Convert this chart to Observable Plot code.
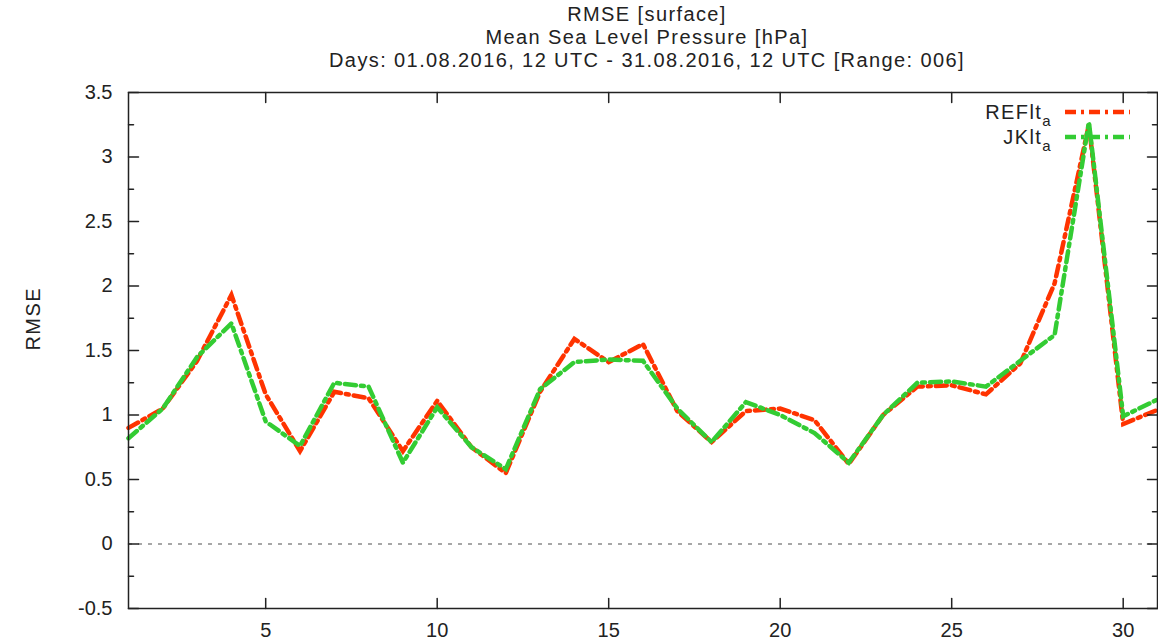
<!DOCTYPE html>
<html>
<head>
<meta charset="utf-8">
<script src="https://cdn.jsdelivr.net/npm/d3@7"></script>
<script src="https://cdn.jsdelivr.net/npm/@observablehq/plot@0.6"></script>
<style>
  html, body { margin: 0; padding: 0; background: #fff; }
  #wrap { position: relative; width: 1158px; height: 644px; }
  #legend { position: absolute; left: 0; top: 0; pointer-events: none; }
</style>
</head>
<body>
<div id="wrap"></div>
<script>
// ---- data ----
const days = [1,2,3,4,5,6,7,8,9,10,11,12,13,14,15,16,17,18,19,20,21,22,23,24,25,26,27,28,29,30,31];
const refValues = [0.90,1.05,1.42,1.93,1.16,0.72,1.18,1.13,0.72,1.11,0.75,0.55,1.18,1.59,1.41,1.55,1.03,0.79,1.03,1.05,0.96,0.62,1.00,1.22,1.23,1.16,1.40,2.02,3.25,0.93,1.04];
const jkValues  = [0.82,1.05,1.45,1.71,0.95,0.76,1.25,1.22,0.63,1.06,0.75,0.58,1.20,1.41,1.43,1.42,1.05,0.79,1.10,1.00,0.86,0.63,1.00,1.25,1.26,1.22,1.42,1.62,3.27,0.99,1.12];
const seriesNames = ["REFlt", "JKlt"];
const seriesColors = ["#ff3300", "#33cc33"];
const yMajorTicks = [-0.5, 0, 0.5, 1, 1.5, 2, 2.5, 3, 3.5];
const yMinorTicks = [-0.25, 0.25, 0.75, 1.25, 1.75, 2.25, 2.75, 3.25];
const xTicks = [5, 10, 15, 20, 25, 30];
const titleLines = [
  "RMSE [surface]",
  "Mean Sea Level Pressure [hPa]",
  "Days: 01.08.2016, 12 UTC - 31.08.2016, 12 UTC [Range: 006]"
];
const yLabel = "RMSE";

// ---- table ----
const rows = [];
[refValues, jkValues].forEach((vals, s) => {
  vals.forEach((v, i) => rows.push({series: seriesNames[s], day: days[i], value: v}));
});

const tickShape = { draw(context, l) { context.moveTo(0, 0); context.lineTo(0, -l); } };
const dashDot = "11,5,3,5";
const fontFamily = "'Liberation Sans', Arial, Helvetica, sans-serif";

const chart = Plot.plot({
  width: 1158,
  height: 644,
  marginLeft: 128,
  marginRight: 1,
  marginTop: 92,
  marginBottom: 36,
  style: { fontFamily, fontSize: "20px", color: "#222", background: "#fff" },
  x: { domain: [1, 31] },
  y: { domain: [-0.5, 3.5] },
  marks: [
    Plot.ruleY([0], { stroke: "#8a8a8a", strokeWidth: 1.4, strokeDasharray: "4,6" }),
    Plot.line(rows.filter(d => d.series === seriesNames[0]), {
      x: "day", y: "value", stroke: seriesColors[0], strokeWidth: 4.5,
      strokeDasharray: dashDot, strokeLinejoin: "miter", strokeMiterlimit: 6
    }),
    Plot.line(rows.filter(d => d.series === seriesNames[1]), {
      x: "day", y: "value", stroke: seriesColors[1], strokeWidth: 4.5,
      strokeDasharray: dashDot, strokeLinejoin: "miter", strokeMiterlimit: 6
    }),
    Plot.frame({ stroke: "#222", strokeWidth: 1.5 }),
    Plot.vector(yMajorTicks, { y: d => d, frameAnchor: "left", rotate: 90, length: 10, anchor: "start", shape: tickShape, stroke: "#222", strokeWidth: 1.5 }),
    Plot.vector(yMajorTicks, { y: d => d, frameAnchor: "right", rotate: -90, length: 10, anchor: "start", shape: tickShape, stroke: "#222", strokeWidth: 1.5 }),
    Plot.vector(yMinorTicks, { y: d => d, frameAnchor: "left", rotate: 90, length: 5, anchor: "start", shape: tickShape, stroke: "#222", strokeWidth: 1.5 }),
    Plot.vector(yMinorTicks, { y: d => d, frameAnchor: "right", rotate: -90, length: 5, anchor: "start", shape: tickShape, stroke: "#222", strokeWidth: 1.5 }),
    Plot.vector(xTicks, { x: d => d, frameAnchor: "bottom", rotate: 0, length: 10, anchor: "start", shape: tickShape, stroke: "#222", strokeWidth: 1.5 }),
    Plot.vector(xTicks, { x: d => d, frameAnchor: "top", rotate: 180, length: 10, anchor: "start", shape: tickShape, stroke: "#222", strokeWidth: 1.5 }),
    Plot.axisY({ ticks: yMajorTicks, tickSize: 0, tickPadding: 16, tickFormat: d => String(d), label: null, fontSize: 20 }),
    Plot.axisX({ ticks: xTicks, tickSize: 0, tickPadding: 14, tickFormat: d => String(d), label: null, fontSize: 20 }),
    Plot.text([yLabel], { text: d => d, frameAnchor: "left", rotate: -90, dx: -95, fontSize: 20, fill: "#222", className: "spaced" }),
    Plot.text([titleLines.join("\n")], { text: d => d, frameAnchor: "top", lineAnchor: "bottom", lineHeight: 1.15, dy: -26, dx: 4, fontSize: 20, fill: "#222", className: "spaced" })
  ]
});

// gnuplot-like wider letter spacing for titles and labels
d3.select(chart).selectAll(".spaced text").attr("letter-spacing", "1.4px");

const wrap = document.getElementById("wrap");
wrap.appendChild(chart);

// legend overlay (top-right key)
const ns = "http://www.w3.org/2000/svg";
const leg = document.createElementNS(ns, "svg");
leg.setAttribute("id", "legend");
leg.setAttribute("width", 1158);
leg.setAttribute("height", 644);
leg.style.fontFamily = fontFamily;
const legY = [112, 137];
seriesNames.forEach((name, i) => {
  const t = document.createElementNS(ns, "text");
  t.setAttribute("x", 1052);
  t.setAttribute("y", legY[i] + 7);
  t.setAttribute("text-anchor", "end");
  t.setAttribute("font-size", 20);
  t.setAttribute("letter-spacing", "1.4px");
  t.setAttribute("fill", "#222");
  t.textContent = name;
  const sub = document.createElementNS(ns, "tspan");
  sub.setAttribute("dy", 7);
  sub.setAttribute("font-size", 15);
  sub.textContent = "a";
  t.appendChild(sub);
  leg.appendChild(t);
  const ln = document.createElementNS(ns, "line");
  ln.setAttribute("x1", 1065); ln.setAttribute("x2", 1130);
  ln.setAttribute("y1", legY[i]); ln.setAttribute("y2", legY[i]);
  ln.setAttribute("stroke", seriesColors[i]);
  ln.setAttribute("stroke-width", 4.5);
  ln.setAttribute("stroke-dasharray", dashDot);
  leg.appendChild(ln);
});
wrap.appendChild(leg);
</script>
</body>
</html>
